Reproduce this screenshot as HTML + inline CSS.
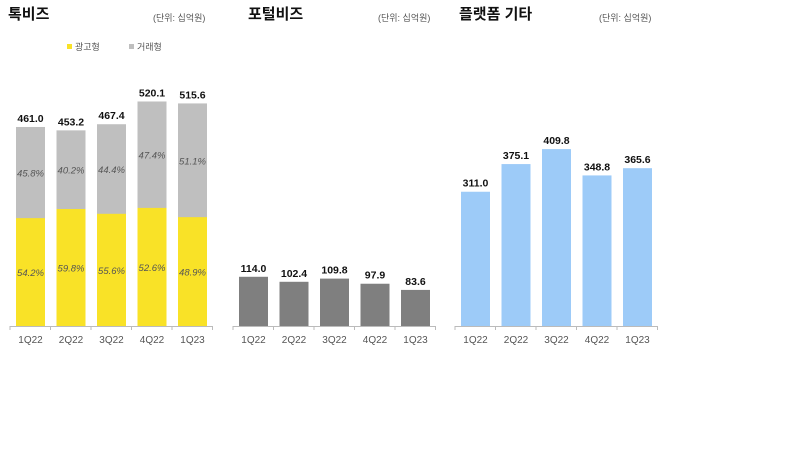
<!DOCTYPE html>
<html><head><meta charset="utf-8"><style>
body{margin:0;background:#fff;width:800px;height:450px;overflow:hidden;font-family:"Liberation Sans","Noto Sans CJK KR",sans-serif}
svg text{font-family:"Liberation Sans","Noto Sans CJK KR",sans-serif}
</style></head><body>
<svg width="800" height="450">
<g id="root"></g>
</svg>
<script>
const cats=["1Q22","2Q22","3Q22","4Q22","1Q23"];
const talkTotal=[461.0,453.2,467.4,520.1,515.6];
const talkAdPct=[54.2,59.8,55.6,52.6,48.9];
const talkTxPct=[45.8,40.2,44.4,47.4,51.1];
const portal=[114.0,102.4,109.8,97.9,83.6];
const platform=[311.0,375.1,409.8,348.8,365.6];
const NS="http://www.w3.org/2000/svg";
const root=document.getElementById('root');
const base=326, k=0.4317;
function y(v){return base-v*k;}
function el(t,a,txt){const e=document.createElementNS(NS,t);for(const n in a)e.setAttribute(n,a[n]);if(txt!==undefined)e.textContent=txt;root.appendChild(e);return e;}
function panel(x0,title,tx,ux){
  const t=el('text',{x:tx,y:19,'font-size':15,'font-weight':'bold',fill:'#111'},title);
  
  
  const u=el('text',{x:ux,y:21,'font-size':9,fill:'#555'},'(단위: 십억원)');
  
  
  const ax=el('line',{x1:x0-8,x2:x0+195,y1:base+0.5,y2:base+0.5,stroke:'#bbb'});
  
  
  for(let i=0;i<=5;i++){const tk=el('line',{x1:x0-8+i*40.5,x2:x0-8+i*40.5,y1:base,y2:base+4,stroke:'#bbb'});
  
  }
  cats.forEach((c,i)=>{const l=el('text',{x:x0+12.5+i*40.5,y:343,'font-size':10,fill:'#555','text-anchor':'middle'},c);
  
  });
}
function cx(x0,i){return x0+12.5+i*40.5;}
function bars(x0,vals,color){
  vals.forEach((v,i)=>{const r=el('rect',{x:cx(x0,i)-14.5,y:y(v),width:29,height:v*k,fill:color});
  
  
  const t=el('text',{x:cx(x0,i),y:y(v)-5,'font-size':10.5,'font-weight':'bold',fill:'#111','text-anchor':'middle'},v.toFixed(1));
  
  });
}
// Panel 1
const X1=18;
panel(X1,'톡비즈',8,153);
talkTotal.forEach((v,i)=>{
  const ad=v*talkAdPct[i]/100;
  const g=el('rect',{x:cx(X1,i)-14.5,y:y(v),width:29,height:v*k,fill:'#bfbfbf'});
  
  
  const a=el('rect',{x:cx(X1,i)-14.5,y:y(ad),width:29,height:ad*k,fill:'#f9e227'});
  
  
  const t=el('text',{x:cx(X1,i),y:y(v)-5,'font-size':10.5,'font-weight':'bold',fill:'#111','text-anchor':'middle'},v.toFixed(1));
  
  
  const p1=el('text',{x:cx(X1,i),y:(y(ad)+base)/2+4,'font-size':9.5,'font-style':'italic',fill:'#555','text-anchor':'middle'},talkAdPct[i].toFixed(1)+'%');
  
  
  const p2=el('text',{x:cx(X1,i),y:(y(v)+y(ad))/2+4,'font-size':9.5,'font-style':'italic',fill:'#555','text-anchor':'middle'},talkTxPct[i].toFixed(1)+'%');
  
  
});
const lg1=el('rect',{x:67,y:44,width:5,height:5,fill:'#f9e227'});


const lt1=el('text',{x:75,y:50,'font-size':9,fill:'#555'},'광고형');


const lg2=el('rect',{x:129,y:44,width:5,height:5,fill:'#bfbfbf'});


const lt2=el('text',{x:137,y:50,'font-size':9,fill:'#555'},'거래형');


// Panel 2
const X2=241;
panel(X2,'포털비즈',248,378);
bars(X2,portal,'#7f7f7f');
// Panel 3
const X3=463;
panel(X3,'플랫폼 기타',459,599);
bars(X3,platform,'#9dcbf8');
</script>
</body></html>
